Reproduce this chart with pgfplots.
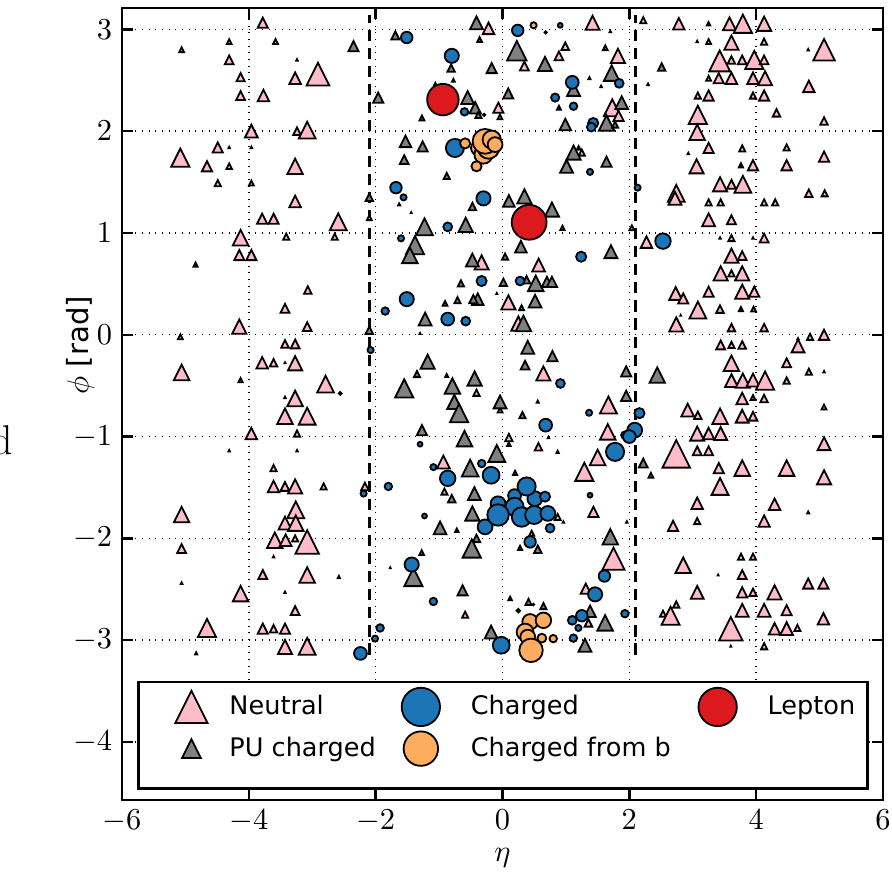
\documentclass[border=0pt]{standalone}
\usepackage{fontspec}
\setsansfont{DejaVu Sans}
\usepackage{pgfplots}
\pgfplotsset{compat=1.18}
\usepackage{pgfplotstable}

\definecolor{npink}{RGB}{255,188,200}
\definecolor{pugray}{RGB}{128,128,128}
\definecolor{chblue}{RGB}{28,117,182}
\definecolor{bor}{RGB}{253,172,96}
\definecolor{lred}{RGB}{220,26,30}

\pgfdeclareplotmark{mtri}{%
  \pgfpathmoveto{\pgfqpoint{0pt}{\pgfplotmarksize}}%
  \pgfpathlineto{\pgfqpoint{-\pgfplotmarksize}{-\pgfplotmarksize}}%
  \pgfpathlineto{\pgfqpoint{\pgfplotmarksize}{-\pgfplotmarksize}}%
  \pgfpathclose\pgfusepathqfillstroke}

\pgfplotstableread{
x y s
-3.78 3.065 18
-4.31 2.88 10
-5.06 2.80 10
-3.58 2.88 10
-4.31 2.70 16
-4.13 2.53 15
-3.27 2.52 20
-2.91 2.56 37
-4.13 2.35 16
-3.77 2.35 20
-3.96 2.00 22
-3.24 2.00 14
-3.08 2.01 28
-5.08 1.74 30
-4.49 1.84 18
-4.66 1.655 18
-4.31 1.655 11
-3.27 1.655 26
-0.22 3.01 20
-0.065 2.23 18
-0.04 2.14 10
1.42 3.065 24
0.345 2.64 16
0.99 2.835 14
0.89 2.74 16
1.82 2.74 24
1.73 2.23 28
1.83 2.15 18
1.25 1.79 12
2.22 3.09 12
2.78 3.055 20
3.58 3.055 22
3.79 3.055 30
4.125 3.055 24
3.25 2.88 10
3.61 2.87 24
4.125 2.88 12
5.07 2.80 35
3.425 2.69 34
3.61 2.70 14
3.78 2.70 16
3.97 2.70 30
4.125 2.70 16
3.25 2.52 10
3.41 2.52 18
3.61 2.52 20
3.95 2.52 20
4.14 2.52 24
4.83 2.44 20
3.08 2.35 12
3.25 2.35 18
3.95 2.35 12
4.125 2.35 18
4.32 2.18 14
3.08 2.16 30
5.07 2.10 14
3.07 1.99 26
3.25 1.835 18
3.78 1.83 12
4.48 1.84 12
5.07 1.75 18
3.06 1.655 24
3.95 1.665 18
4.48 1.665 18
-4.49 1.49 12
-3.96 1.49 10
-3.27 1.31 20
-3.79 1.14 18
-3.61 1.14 18
-2.59 1.11 28
-4.13 0.954 26
-3.41 0.964 12
-2.645 0.964 12
-4.15 0.783 18
-3.96 0.783 18
-3.07 0.44 14
-3.43 0.26 16
-4.15 0.08 24
-3.08 0.08 16
-5.08 -0.02 10
-2.10 1.15 10
-0.33 0.71 24
0.57 0.685 22
0.093 0.318 24
0.25 0.11 24
3.43 1.478 24
3.61 1.478 16
3.79 1.478 28
2.74 1.39 28
2.72 1.34 22
3.25 1.30 12
3.44 1.30 12
4.125 1.30 12
4.30 1.30 12
4.83 1.39 14
5.08 1.39 12
3.25 1.13 22
3.61 1.13 16
2.04 1.05 10
2.27 0.91 20
3.61 0.95 12
4.125 0.95 16
3.61 0.777 24
3.78 0.777 16
3.44 0.603 24
3.61 0.603 12
3.78 0.603 24
2.73 0.406 22
2.85 0.357 18
3.25 0.423 18
3.78 0.423 24
3.97 0.423 18
3.08 0.243 28
3.43 0.252 14
3.96 0.252 10
2.74 0.102 24
3.61 0.07 14
4.125 0.07 14
5.07 0.0 18
4.85 -0.02 12
-3.43 -0.09 14
-3.27 -0.09 16
-3.79 -0.275 20
-3.61 -0.275 14
-3.27 -0.28 24
-5.06 -0.37 26
-2.79 -0.485 28
-3.27 -0.626 26
-3.43 -0.80 26
-3.08 -0.80 28
-3.96 -0.97 20
-3.24 -0.97 12
-3.61 -1.31 12
-3.61 -1.49 20
-3.43 -1.49 16
-3.27 -1.49 24
-2.82 -1.49 12
-2.17 -1.49 14
-0.41 -0.57 12
-0.038 -0.74 10
0.645 -0.38 24
0.10 -1.01 14
0.566 -1.10 14
-0.932 -1.25 22
-0.916 -1.54 12
1.67 -0.69 28
1.66 -0.954 26
1.50 -1.205 26
1.29 -1.346 30
3.44 -0.10 16
3.61 -0.10 12
3.78 -0.10 14
4.66 -0.11 22
3.61 -0.28 26
4.48 -0.275 16
4.83 -0.363 12
3.61 -0.45 22
3.79 -0.45 24
3.95 -0.445 22
4.14 -0.45 30
4.48 -0.45 12
3.78 -0.626 20
3.95 -0.616 10
4.125 -0.626 14
5.07 -0.71 10
2.92 -0.74 22
3.08 -0.79 14
3.43 -0.80 26
3.78 -0.80 22
3.95 -0.80 16
3.07 -0.97 24
3.25 -0.97 20
3.44 -0.97 22
3.07 -1.14 16
3.25 -1.14 16
5.07 -1.07 22
2.74 -1.17 44
3.41 -1.31 18
3.78 -1.31 26
4.48 -1.31 26
3.43 -1.49 28
5.07 -1.40 24
3.07 -1.655 20
4.29 -1.665 20
-5.06 -1.766 26
-3.26 -1.72 28
-3.43 -1.85 22
-3.26 -1.85 26
-3.59 -2.018 26
-3.42 -2.018 20
-3.27 -2.0 12
-3.08 -2.035 38
-5.06 -2.10 16
-3.78 -2.355 16
-3.08 -2.36 26
-4.13 -2.543 26
-3.27 -2.71 16
-4.66 -2.88 30
-3.78 -2.887 18
-3.61 -2.887 14
-3.43 -2.887 18
-3.43 -3.067 24
-3.08 -3.06 28
0.87 -1.79 12
0.46 -1.95 10
-0.59 -2.75 12
1.434 -1.74 18
1.75 -2.20 36
1.313 -2.494 18
1.355 -2.83 14
2.69 -1.877 18
3.07 -1.83 12
4.125 -1.83 20
2.85 -2.264 26
3.76 -2.18 12
3.95 -2.18 12
3.78 -2.356 16
3.07 -2.53 22
3.78 -2.53 18
3.95 -2.53 14
4.29 -2.53 24
4.82 -2.444 18
5.06 -2.444 18
2.74 -2.65 12
2.53 -2.74 12
2.65 -2.76 30
3.78 -2.706 22
4.125 -2.706 22
4.48 -2.706 18
5.06 -2.79 20
3.60 -2.887 38
4.29 -2.887 20
4.48 -2.887 22
4.65 -2.88 12
4.125 -3.06 12
}\neutral

\pgfplotstableread{
x y s
-2.35 2.835 18
-3.24 2.70 5
-4.31 1.84 5
-3.96 1.84 5
-0.41 3.065 22
-1.69 2.94 15
-0.36 2.90 10
-0.81 2.62 14
-0.17 2.62 18
-0.775 2.50 7
-1.06 2.465 6
-0.55 2.33 22
-0.43 2.23 20
-0.38 2.16 12
-1.27 2.13 10
-1.96 2.33 18
0.09 2.37 18
1.70 2.98 5
0.225 2.79 32
0.67 2.66 24
1.62 2.82 10
1.72 2.57 26
1.37 2.52 6
1.555 2.44 5
1.12 2.41 22
0.89 2.23 9
1.88 2.28 22
1.64 2.08 26
0.99 2.065 20
1.775 2.065 12
-1.53 1.90 20
-1.26 1.85 18
-1.55 1.72 16
-0.88 1.56 12
1.12 1.79 24
1.20 1.835 8
1.01 1.655 22
1.64 1.70 18
3.25 3.055 8
3.07 2.88 5
4.82 2.80 5
2.51 2.63 14
2.295 2.46 5
2.93 1.78 5
3.76 1.665 9
-4.84 0.69 9
-2.10 1.35 14
-2.10 0.045 14
-1.63 1.28 6
-1.44 1.20 4
-0.475 1.26 14
0.10 1.315 20
0.345 1.36 24
0.78 1.23 24
0.945 1.05 9
-1.23 1.06 28
-0.58 1.08 24
-1.38 0.88 30
-1.46 0.78 26
0.29 0.865 20
1.71 0.816 22
-0.475 0.734 22
0.04 0.767 12
-0.655 0.505 12
0.014 0.515 14
0.524 0.505 26
0.38 0.54 14
0.70 0.52 18
0.78 0.52 18
-0.906 0.308 10
-0.71 0.34 12
-0.39 0.35 20
-0.46 0.35 15
-0.09 0.406 4
0.514 0.33 22
-1.22 0.154 22
0.30 0.266 10
0.33 0.11 26
-1.30 0.013 4
3.43 0.95 5
3.95 0.95 5
2.81 0.19 4
3.76 0.252 9
4.66 -0.04 5
-3.43 -0.275 4
-4.13 -0.445 9
-3.43 -0.616 5
-4.31 -1.14 5
-3.24 -1.14 5
-1.18 -0.265 24
-1.35 -0.386 12
-0.88 -0.40 7
-1.55 -0.527 30
-0.79 -0.504 26
-0.44 -0.43 24
-0.76 -0.66 24
-0.685 -0.77 30
-0.038 -0.66 22
0.398 -0.124 22
0.787 -0.21 18
0.356 -0.298 16
0.556 -0.658 6
0.314 -0.79 12
-1.27 -0.937 18
-0.60 -1.02 26
0.10 -1.075 8
0.724 -1.01 5
0.87 -1.15 6
-0.09 -1.166 28
-0.51 -1.31 28
0.198 -1.357 9
-0.80 -1.61 14
-0.443 -1.56 22
1.95 -0.36 18
1.95 -0.60 18
2.44 -0.396 26
5.07 -0.363 5
2.22 -1.26 16
2.34 -1.38 10
-3.61 -2.18 5
-5.06 -2.44 5
-2.58 -2.38 6
-3.43 -2.53 5
-4.83 -3.13 6
-0.475 -1.756 24
-0.985 -1.897 22
-0.72 -1.92 8
0.96 -1.84 5
-0.41 -2.0 14
-0.485 -2.10 30
0.556 -2.107 14
0.277 -2.094 9
-1.274 -2.14 10
-1.77 -2.29 4
-1.405 -2.38 30
-0.63 -2.51 18
0.12 -2.59 8
0.41 -2.625 12
0.645 -2.665 12
-0.18 -2.92 22
1.70 -1.985 26
1.38 -2.716 20
1.618 -2.83 26
1.30 -3.05 22
1.96 -1.84 5
4.82 -1.746 6
3.40 -2.36 4
3.60 -3.06 4
}\pucharged

\pgfplotstableread{
x y s
-1.51 2.92 20
-0.80 2.74 24
-0.60 2.19 14
0.24 2.99 20
0.68 2.97 6
0.91 3.04 10
1.84 2.47 16
1.10 2.48 22
0.83 2.33 15
1.12 2.245 14
1.43 2.08 18
1.40 2.04 16
-0.75 1.835 30
1.38 1.60 12
-1.68 1.445 20
-1.56 1.35 12
-0.30 1.34 24
-0.864 1.06 16
-1.60 0.947 12
1.24 0.767 18
-0.33 0.528 18
0.277 0.528 16
-1.51 0.35 24
-1.85 0.233 14
-0.864 0.154 22
-0.58 0.134 16
2.13 1.445 12
2.53 0.92 26
-2.08 -0.15 12
-2.56 -0.576 7
-2.19 -1.56 12
0.913 -0.478 16
1.365 -0.766 12
0.68 -0.888 22
-1.30 -1.075 10
-1.09 -1.30 12
-0.864 -1.41 26
-0.328 -1.265 14
-0.18 -1.38 28
-1.80 -1.49 14
1.93 -0.986 14
1.775 -1.15 30
1.38 -1.576 10
2.16 -0.77 18
2.085 -0.937 25
2.0 -1.0 22
-2.24 -3.13 22
-2.01 -2.985 12
-1.23 -1.78 10
-0.275 -1.887 25
-0.07 -1.66 25
0.19 -1.58 22
0.51 -1.61 25
0.67 -1.59 18
0.38 -1.49 30
0.19 -1.69 30
-0.07 -1.77 35
0.30 -1.79 32
0.50 -1.77 30
0.715 -1.755 25
0.75 -1.90 16
0.435 -2.035 20
-1.432 -2.257 24
-1.09 -2.62 14
0.487 -2.65 5
-1.93 -2.88 14
-0.02 -3.05 28
1.607 -2.37 20
1.46 -2.55 24
1.25 -2.76 20
1.10 -2.805 16
1.197 -2.88 12
1.118 -2.98 14
1.93 -2.74 14
}\charged

\pgfplotstableread{
x y s
-0.29 2.16 6
0.49 3.04 12
-0.59 1.88 18
-0.38 1.835 25
-0.30 1.77 30
-0.22 1.835 35
-0.275 1.90 40
-0.17 1.917 30
-0.117 1.868 25
-0.41 1.655 18
0.25 -2.71 8
0.435 -2.82 26
0.645 -2.805 26
0.356 -2.92 28
0.398 -2.97 25
0.62 -2.98 16
0.80 -2.985 14
0.45 -3.10 38
}\fromb

\pgfplotstableread{
x y s
-0.94 2.31 50
0.42 1.105 55
}\lepton

\pgfplotsset{
  pts/.style 2 args={scatter, only marks, mark=#1,
    point meta=\thisrow{s},
    scatter/use mapped color={draw=black, fill=#2, line width=0.65pt},
    visualization depends on={\thisrow{s}\as\ms},
    scatter/@pre marker code/.append style={/tikz/mark size={max(\ms*0.12-0.33,0.15)*1pt}},
    forget plot},
  limg/.style n args={3}{legend image code/.code={%
    \path[draw=none, fill=none] (-#1,-#3) rectangle (#2,7.5pt);%
    \draw[##1] plot coordinates {(0pt,0pt)};}},
}

\begin{document}
\begin{tikzpicture}
\begin{axis}[
  name=ax,
  scale only axis,
  width=273.96pt, height=285.12pt,
  xmin=-6, xmax=6, ymin=-4.57, ymax=3.21,
  xtick={-6,-4,...,6}, ytick={-4,-3,...,3},
  grid=major,
  grid style={black, dotted, line width=0.5pt},
  tick align=inside,
  major tick length=4pt,
  tick style={black, line width=0.9pt},
  axis line style={line width=1pt},
  tick label style={font=\fontsize{10.5}{12}\selectfont},
  xlabel={$\eta$},
  ylabel={$\phi$ \textsf{[rad]}},
  label style={font=\fontsize{10.5}{12}\selectfont},
  xlabel style={at={(axis description cs:0.5,-0.073)}, anchor=center},
  ylabel style={at={(axis description cs:-0.055,0.574)}, anchor=center},
  legend columns=3,
  legend cell align=left,
  legend style={at={(axis description cs:0.0197,0.0126)}, anchor=south west,
    draw=black, line width=1pt, fill=white,
    inner xsep=4.3pt, inner ysep=1.5pt,
    font=\sffamily\fontsize{9.2}{11}\selectfont,
    nodes={inner sep=0pt},
    /tikz/column 1/.style={column sep=4.5pt},
    /tikz/column 2/.style={column sep=7pt},
    /tikz/column 3/.style={column sep=8.8pt},
    /tikz/column 4/.style={column sep=7.7pt},
    /tikz/column 5/.style={column sep=8.8pt},
  },
]
\addplot[black, line width=1pt, dash pattern=on 4pt off 2.5pt, forget plot] coordinates {(-2.1,-3.1416) (-2.1,3.1416)};
\addplot[black, line width=1pt, dash pattern=on 4pt off 2.5pt, forget plot] coordinates {(2.1,-3.1416) (2.1,3.1416)};

\addplot[pts={mtri}{npink}] table[x=x,y=y] {\neutral};
\addplot[pts={mtri}{pugray}] table[x=x,y=y] {\pucharged};
\addplot[pts={*}{chblue}] table[x=x,y=y] {\charged};
\addplot[pts={*}{bor}] table[x=x,y=y] {\fromb};
\addplot[pts={*}{lred}] table[x=x,y=y] {\lepton};

\addlegendimage{only marks, mark=mtri, mark size=5.8pt, draw=black, fill=npink, line width=0.65pt, limg={14.8pt}{9.2pt}{7.5pt}}
\addlegendentry{Neutral}
\addlegendimage{only marks, mark=*, mark size=6.9pt, draw=black, fill=chblue, line width=0.65pt, limg={9.2pt}{9.2pt}{7.5pt}}
\addlegendentry{Charged}
\addlegendimage{only marks, mark=*, mark size=6.9pt, draw=black, fill=lred, line width=0.65pt, limg={9.2pt}{9.2pt}{7.5pt}}
\addlegendentry{Lepton}
\addlegendimage{only marks, mark=mtri, mark size=3.4pt, draw=black, fill=pugray, line width=0.65pt, limg={14.8pt}{9.2pt}{12.9pt}}
\addlegendentry{PU charged}
\addlegendimage{only marks, mark=*, mark size=6.2pt, draw=black, fill=bor, line width=0.65pt, limg={9.2pt}{9.2pt}{12.9pt}}
\addlegendentry{Charged from b}
\end{axis}
\node[anchor=east, font=\fontsize{15}{18}\selectfont, inner sep=0pt] at ([xshift=-39.24pt, yshift=129.6pt]ax.south west) {d};
\pgfresetboundingbox
\path[use as bounding box] ([xshift=-43.92pt,yshift=-27pt]ax.south west) rectangle ([xshift=277.2pt,yshift=288pt]ax.south west);
\end{tikzpicture}
\end{document}
